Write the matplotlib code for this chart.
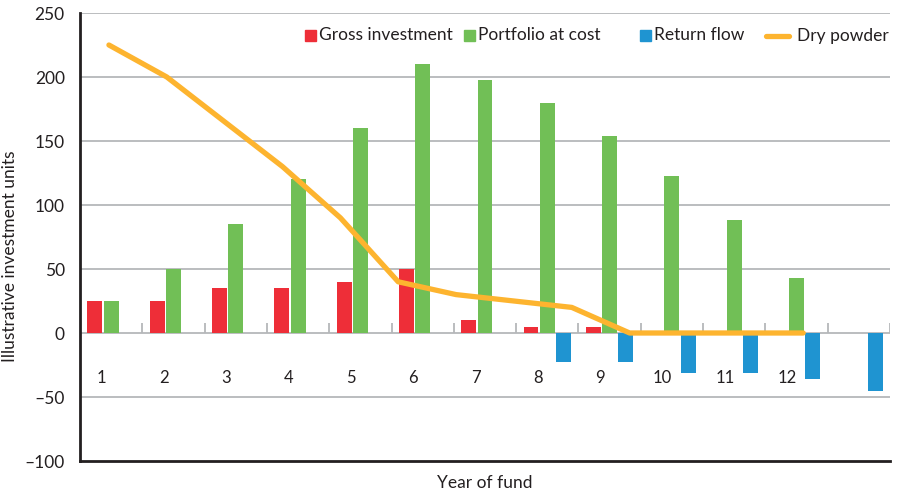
import numpy as np
import matplotlib
matplotlib.use("Agg")
import matplotlib.pyplot as plt
from matplotlib.patches import Rectangle
from matplotlib.lines import Line2D

# ---- data ----
years = ["1", "2", "3", "4", "5", "6", "7", "8", "9", "10", "11", "12", ""]
gross_investment = [25, 25, 35, 35, 40, 50, 10, 5, 5, 0, 0, 0, 0]
portfolio_at_cost = [25, 50, 85, 120, 160, 210, 198, 180, 154, 123, 88, 43, 0]
return_flow = [0, 0, 0, 0, 0, 0, 0, -23, -23, -31, -31, -36, -45]
dry_powder = [225, 200, 165, 130, 90, 40, 30, 25, 20, 0, 0, 0, 0]
y_ticks = [-100, -50, 0, 50, 100, 150, 200, 250]

RED = "#ee2e38"
GREEN = "#71bf56"
BLUE = "#1f94d1"
ORANGE = "#fdb42f"
GRID = "#b5b7ba"
TXT = "#231f20"

plt.rcParams['font.family'] = ['Lato', 'DejaVu Sans']

fig = plt.figure(figsize=(8.99, 4.93), dpi=100)
ax = fig.add_axes([80/899, (493-461)/493, (890-80)/899, (461-13)/493])

n = len(years)
x = np.arange(n)
w = 0.24
off = 0.262

ax.set_xlim(-0.5, n - 0.5)
ax.set_ylim(-100, 250)

# gridlines
for yv in y_ticks[1:]:
    ax.axhline(yv, color=GRID, lw=1.3, zorder=0)

# bars
ax.bar(x - off, gross_investment, width=w, color=RED, zorder=2)
ax.bar(x, portfolio_at_cost, width=w, color=GREEN, zorder=2)
ax.bar(x + off, return_flow, width=w, color=BLUE, zorder=2)

# category boundary tick marks on the zero line
ax.vlines(np.arange(0.5, n, 1), 0, 8, color=GRID, lw=1.3, zorder=1)

# dry powder line on its own (secondary) category scale with n+1 slots
k = len(dry_powder)
xl = -0.5 + (np.arange(k) + 0.5) * n / (n + 1)
ax.plot(xl, dry_powder, color=ORANGE, lw=3.8, solid_capstyle='round',
        solid_joinstyle='round', zorder=3)

# category labels inside plot
for i, lab in enumerate(years):
    ax.text(i - 0.15, -35, lab, ha='center', va='center', fontsize=12, color=TXT)

# axes styling
ax.set_yticks(y_ticks)
ax.set_yticklabels([("\u2013" + str(-v)) if v < 0 else str(v) for v in y_ticks],
                   fontsize=12.5, color=TXT)
ax.tick_params(axis='y', length=0, pad=11)
ax.set_xticks([])
for s in ['top', 'right']:
    ax.spines[s].set_visible(False)
ax.spines['left'].set_color(TXT)
ax.spines['left'].set_linewidth(2)
ax.spines['bottom'].set_color(TXT)
ax.spines['bottom'].set_linewidth(2)

ax.set_ylabel("Illustrative investment units", fontsize=12.5, color=TXT)
ax.yaxis.set_label_coords((18 - 80) / 810, (461 - 256) / 448)
ax.set_xlabel("Year of fund", fontsize=12.5, color=TXT, labelpad=10)

# legend drawn manually (figure pixel coords)
def fx(px):
    return px / 899
def fy(py):
    return 1 - py / 493

items = [("Gross investment", RED, 305), ("Portfolio at cost", GREEN, 464),
         ("Return flow", BLUE, 640)]
for lab, col, px in items:
    fig.patches.append(Rectangle((fx(px), fy(41)), 11/899, 11/493,
                                 transform=fig.transFigure, color=col))
    fig.text(fx(px + 14), fy(35.5), lab, fontsize=12.5, color=TXT, va='center', ha='left')
fig.lines.append(Line2D([fx(766), fx(789)], [fy(35.5), fy(35.5)], transform=fig.transFigure,
                        color=ORANGE, lw=3.8, solid_capstyle='round'))
fig.text(fx(797), fy(35.5), "Dry powder", fontsize=12.5, color=TXT, va='center', ha='left')

fig.savefig("out.png", dpi=100)
